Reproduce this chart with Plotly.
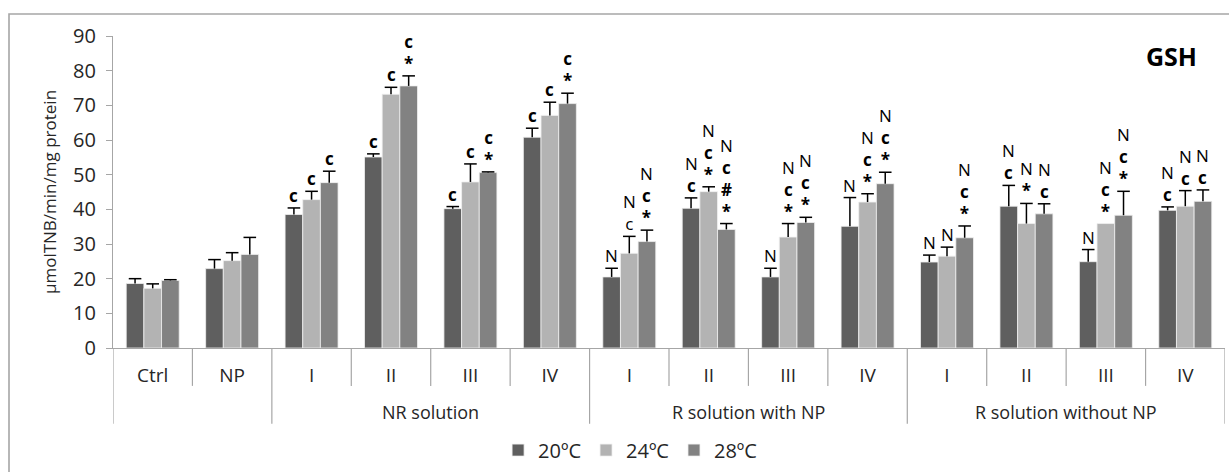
import plotly.graph_objects as go

categories = ["Ctrl", "NP", "I", "II", "III", "IV", "I", "II", "III", "IV", "I", "II", "III", "IV"]
groups = ["", "", "NR solution", "NR solution", "NR solution", "NR solution",
          "R solution with NP", "R solution with NP", "R solution with NP", "R solution with NP",
          "R solution without NP", "R solution without NP", "R solution without NP", "R solution without NP"]
series_names = ["20ºC", "24ºC", "28ºC"]

v20 = [18.6, 22.9, 38.5, 55.1, 40.2, 60.8, 20.5, 40.3, 20.5, 35.1, 24.8, 40.9, 24.9, 39.7]
e20 = [1.4, 2.6, 1.9, 0.9, 0.6, 2.6, 2.5, 3.0, 2.5, 8.3, 2.0, 6.0, 3.5, 1.0]
v24 = [17.2, 25.2, 42.8, 73.2, 47.9, 67.1, 27.3, 45.1, 32.0, 42.1, 26.5, 35.9, 35.9, 40.9]
e24 = [1.3, 2.3, 2.4, 2.0, 5.2, 3.8, 4.9, 1.4, 3.9, 2.4, 2.6, 5.8, 0.0, 4.5]
v28 = [19.5, 27.0, 47.7, 75.6, 50.6, 70.5, 30.7, 34.2, 36.2, 47.4, 31.8, 38.7, 38.3, 42.3]
e28 = [0.2, 4.9, 3.3, 2.9, 0.2, 3.0, 3.3, 1.7, 1.5, 3.3, 3.4, 2.9, 6.9, 3.3]

B = "<b>c</b>"
S = "<b>*</b>"
H = "<b>#</b>"
lab20 = ["", "", B, B, B, B, "N", "N<br>" + B, "N", "N", "N", "N<br>" + B, "N", "N<br>" + B]
lab24 = ["", "", B, B, B, B, "N<br>c", "N<br>" + B + "<br>" + S, "N<br>" + B + "<br>" + S,
         "N<br>" + B + "<br>" + S, "N", "N<br>" + S, "N<br>" + B + "<br>" + S, "N<br>" + B]
lab28 = ["", "", B, B + "<br>" + S, B + "<br>" + S, B + "<br>" + S, "N<br>" + B + "<br>" + S,
         "N<br>" + B + "<br>" + H + "<br>" + S, "N<br>" + B + "<br>" + S, "N<br>" + B + "<br>" + S,
         "N<br>" + B + "<br>" + S, "N<br>" + B, "N<br>" + B + "<br>" + S, "N<br>" + B]

colors = ["#5f5f5f", "#b3b3b3", "#828282"]
FONT = "Open Sans"
TXT = "#262626"
GRID = "#a6a6a6"

values = [v20, v24, v28]
errors = [e20, e24, e28]
labels = [lab20, lab24, lab28]

BARGAP = 0.333
n = len(categories)
xs = list(range(n))
w = (1 - BARGAP) / 3

fig = go.Figure()
for k in range(3):
    fig.add_trace(go.Bar(
        x=xs, y=values[k], name=series_names[k],
        marker=dict(color=colors[k], line=dict(color="#f0f0f0", width=0.8)),
        error_y=dict(type="data", symmetric=False, array=errors[k], arrayminus=[0] * n,
                     color="black", thickness=1.5, width=0),
    ))
for k in range(3):
    off = (k - 1) * w
    capx = [i + off for i in xs]
    capy = [v + e if e > 0 else None for v, e in zip(values[k], errors[k])]
    fig.add_trace(go.Scatter(
        x=capx, y=capy, mode="markers", showlegend=False, hoverinfo="skip",
        marker=dict(symbol="line-ew", size=9, line=dict(color="black", width=1.5)),
    ))
    for i in xs:
        if labels[k][i]:
            fig.add_annotation(x=i + off, y=values[k][i] + errors[k][i], xref="x", yref="y",
                               text=labels[k][i], showarrow=False, yanchor="bottom",
                               font=dict(family=FONT, size=17, color="black"), borderpad=0)

# dividers for the two-level category axis
PH = 313.0
short_len = -38 / PH
long_len = -76 / PH
for b in range(n + 1):
    xb = b - 0.5
    if b == 0 or b == n or groups[b - 1] != groups[b]:
        y0 = long_len
    else:
        y0 = short_len
    fig.add_shape(type="line", xref="x", yref="paper", x0=xb, x1=xb, y0=0, y1=y0,
                  line=dict(color=GRID, width=1.2))

# group labels
seen = []
for g in groups:
    if g and g not in seen:
        seen.append(g)
for g in seen:
    idx = [i for i, gg in enumerate(groups) if gg == g]
    fig.add_annotation(x=(idx[0] + idx[-1]) / 2, y=-64 / PH, xref="x", yref="paper",
                       text=g, showarrow=False, yanchor="middle",
                       font=dict(family=FONT, size=18, color=TXT))

# title GSH
fig.add_annotation(x=(1171 - 113) / 1112, y=(349 - 56) / PH, xref="paper", yref="paper",
                   text="<b>GSH</b>", showarrow=False, xanchor="center", yanchor="middle",
                   font=dict(family=FONT, size=25, color="black"))

# outer frame
fig.add_shape(type="rect", xref="paper", yref="paper", x0=(9 - 113) / 1112, x1=1.01,
              y0=-0.5, y1=(349 - 14) / PH, line=dict(color=GRID, width=1.6), layer="below")

fig.update_layout(
    width=1229, height=472,
    margin=dict(l=113, r=4, t=36, b=123),
    paper_bgcolor="white", plot_bgcolor="white",
    barmode="group", bargap=BARGAP, bargroupgap=0,
    font=dict(family=FONT, size=19, color=TXT),
    showlegend=True,
    legend=dict(orientation="h", x=0.465, xanchor="center", y=-0.323, yanchor="middle",
                font=dict(family=FONT, size=20, color=TXT), traceorder="normal",
                itemwidth=30),
)
fig.update_xaxes(range=[-0.5, n - 0.5], tickvals=xs, ticktext=categories, ticks="",
                 showline=True, linecolor=GRID, linewidth=1.2, showgrid=False, zeroline=False,
                 tickfont=dict(family=FONT, size=19, color=TXT), ticklabelstandoff=10)
fig.update_yaxes(range=[0, 90], dtick=10, ticks="outside", ticklen=6, tickcolor=GRID,
                 showline=True, linecolor=GRID, linewidth=1.2, showgrid=False, zeroline=False,
                 tickfont=dict(family=FONT, size=20, color=TXT), ticklabelstandoff=6,
                 title=dict(text="µmolTNB/min/mg protein", font=dict(family=FONT, size=17, color=TXT),
                            standoff=12))

fig.write_html("out.html")
